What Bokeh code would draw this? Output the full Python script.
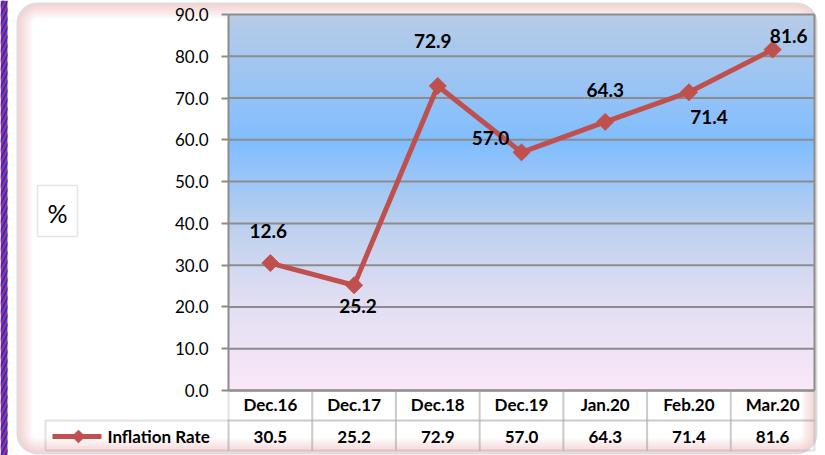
import numpy as np
from bokeh.plotting import figure
from bokeh.models import (ColumnDataSource, BoxAnnotation, FixedTicker,
                          NumeralTickFormatter, Range1d)
from bokeh.core.properties import value
from bokeh.embed import file_html
from bokeh.resources import INLINE

# ---------------- data ----------------
categories = ["Dec.16", "Dec.17", "Dec.18", "Dec.19", "Jan.20", "Feb.20", "Mar.20"]
inflation = [30.5, 25.2, 72.9, 57.0, 64.3, 71.4, 81.6]
point_labels = ["12.6", "25.2", "72.9", "57.0", "64.3", "71.4", "81.6"]
y_ticks = [0, 10, 20, 30, 40, 50, 60, 70, 80, 90]
series_name = "Inflation Rate"
unit_label = "%"

# ---------------- layout / styles ----------------
W, H = 825, 455
PA_L, PA_R, PA_T, PA_B = 228, 814, 14, 390        # plot-area box in pixels
YMIN, YMAX = 0, 90
label_dx = [-2, 4, -5, -31, 0, 20, 16]
label_dy = [-32, 21, -45, -14, -32, 25, -14]
RED = "#c0504d"
GRID = "#8c8c8c"
CELL = "#9a9a9a"
FONT = "Lato"

ncat = len(categories)
colw = (PA_R - PA_L) / ncat
ppu = (PA_B - PA_T) / (YMAX - YMIN)
x_start = -PA_L / colw
x_end = ncat + (W - PA_R) / colw
y_end = YMAX + PA_T / ppu
y_start = YMIN - (H - PA_B) / ppu


def X(px):
    return x_start + px / colw


def Y(py):
    return y_end - py / ppu


xpos = [i + 0.5 for i in range(ncat)]   # category centres on the axis

p = figure(width=W, height=H, x_range=Range1d(x_start, x_end), y_range=Range1d(y_start, y_end),
           output_backend="svg", toolbar_location=None,
           min_border_left=0, min_border_right=0, min_border_top=0, min_border_bottom=0)
p.background_fill_color = "white"
p.border_fill_color = "white"
p.outline_line_color = None
p.grid.visible = False


def box(l, r, t, b, **kw):
    a = BoxAnnotation(left=l, right=r, top=t, bottom=b, **kw)
    p.add_layout(a)
    return a


# left striped strip
box(X(0), X(7), Y(0), Y(H), fill_color="#963a6e", fill_alpha=1, line_alpha=0,
    hatch_pattern="right_diagonal_line", hatch_color="#2020ff", hatch_scale=9, hatch_weight=1.6,
    level="image")

# outer rounded frame with pink inner glow
box(X(17), X(816), Y(3), Y(453), fill_color="white", fill_alpha=1, line_color=GRID,
    line_width=2, border_radius=20, level="image")
for k in range(1, 8):
    box(X(17 + 2 * k), X(816 - 2 * k), Y(3 + 2 * k), Y(453 - 2 * k), fill_alpha=0,
        line_color="#e79a9a", line_alpha=0.5 * (1 - k / 8.0), line_width=2,
        border_radius=max(20 - 2 * k, 3), level="image")

# plot-area gradient
stops_pos = [0.0, 0.25, 0.45, 0.66, 1.0]
stops_col = [(250, 232, 248), (224, 221, 242), (185, 207, 238), (128, 189, 255), (184, 204, 230)]
step = 0.5
for y0 in np.arange(YMIN, YMAX, step):
    f = (y0 + step / 2) / YMAX
    c = [int(round(np.interp(f, stops_pos, [s[j] for s in stops_col]))) for j in range(3)]
    box(0, ncat, min(y0 + step + 0.25, YMAX), y0, fill_color="#%02x%02x%02x" % tuple(c),
        fill_alpha=1, line_alpha=0, level="image")

# unit box (below the glyph text)
box(X(37), X(77), Y(185), Y(236), fill_color="white", fill_alpha=1, line_color="#a8a8a8",
    line_width=1.5, level="underlay")

# horizontal gridlines and plot-area outline
p.segment(x0=[0] * len(y_ticks), x1=[ncat] * len(y_ticks), y0=y_ticks, y1=y_ticks,
          line_color=GRID, line_width=2)
p.segment(x0=[ncat], x1=[ncat], y0=[YMIN], y1=[YMAX], line_color=GRID, line_width=2)

# axes drawn at fixed positions inside the canvas
yax = p.yaxis[0]
yax.fixed_location = 0
yax.bounds = (YMIN, YMAX)
yax.ticker = FixedTicker(ticks=y_ticks)
yax.formatter = NumeralTickFormatter(format="0.0")
yax.minor_tick_line_color = None
yax.major_tick_in = 0
yax.major_tick_out = 7
yax.major_tick_line_color = GRID
yax.major_tick_line_width = 2
yax.axis_line_color = GRID
yax.axis_line_width = 2
yax.major_label_standoff = 13
yax.major_label_text_font = FONT
yax.major_label_text_font_size = "17px"
yax.major_label_text_color = "black"

xax = p.xaxis[0]
xax.fixed_location = 0
xax.bounds = (0, ncat)
xax.ticker = FixedTicker(ticks=xpos)
xax.major_label_overrides = {x: c for x, c in zip(xpos, categories)}
xax.minor_tick_line_color = None
xax.major_tick_in = 0
xax.major_tick_out = 0
xax.axis_line_color = GRID
xax.axis_line_width = 2
xax.major_label_standoff = 3
xax.major_label_text_font = FONT
xax.major_label_text_font_style = "bold"
xax.major_label_text_font_size = "17px"
xax.major_label_text_color = "black"

# series
src = ColumnDataSource(dict(x=xpos, val=inflation, lab=point_labels, dx=label_dx, dy=label_dy))
p.line("x", "val", source=src, line_color=RED, line_width=5)
p.scatter("x", "val", source=src, marker="square", angle=np.pi / 4, size=12,
          fill_color=RED, line_color=RED)
p.text("x", "val", text="lab", source=src, x_offset="dx", y_offset="dy",
       text_align="center", text_baseline="middle", text_font=value(FONT),
       text_font_style="bold", text_font_size="19px", text_color="black")

# data table under the chart
row1_t, row1_b, row2_b = Y(390), Y(420), Y(450)
for i in range(ncat):
    box(i, i + 1, row1_t, row1_b, fill_alpha=0, line_color=CELL, line_width=2)
    box(i, i + 1, row1_b, row2_b, fill_alpha=0, line_color=CELL, line_width=2)
box(X(45), 0, row1_b, row2_b, fill_alpha=0, line_color=CELL, line_width=2)
row2_y = Y(436)
p.text(xpos, [row2_y] * ncat, text=["%.1f" % v for v in inflation],
       text_align="center", text_baseline="middle", text_font=value(FONT),
       text_font_style="bold", text_font_size="17px", text_color="black")

# legend key inside the table
p.line([X(52), X(101)], [row2_y, row2_y], line_color=RED, line_width=5)
p.scatter([X(78)], [row2_y], marker="square", angle=np.pi / 4, size=9,
          fill_color=RED, line_color=RED)
p.text([X(107)], [row2_y], text=[series_name], text_align="left", text_baseline="middle",
       text_font=value(FONT), text_font_style="bold", text_font_size="17px", text_color="black")

# unit label
p.text([X(57)], [Y(212)], text=[unit_label], text_align="center", text_baseline="middle",
       text_font=value(FONT), text_font_size="25px", text_color="black")

open("out.html", "w").write(file_html(p, INLINE))
